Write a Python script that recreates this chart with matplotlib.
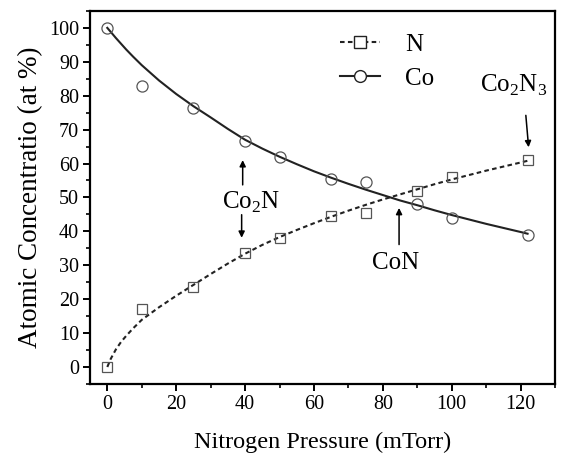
import matplotlib
matplotlib.use("Agg")
import matplotlib.pyplot as plt
from matplotlib.ticker import MultipleLocator

plt.rcParams['font.family'] = ['Liberation Serif', 'DejaVu Serif']
plt.rcParams['mathtext.fontset'] = 'custom'
plt.rcParams['mathtext.rm'] = 'Liberation Serif'

# measured points
pressure = [0, 10, 25, 40, 50, 65, 75, 90, 100, 122]
n_conc = [0, 17, 23.5, 33.5, 38, 44.5, 45.5, 52, 56, 61]
co_conc = [100, 83, 76.5, 66.5, 62, 55.5, 54.5, 48, 44, 39]

# fitted curves
fit_x = [0, 1, 2.5, 4, 5.5, 7.5, 10, 15, 20, 25, 30, 35, 40, 45, 50, 55, 60, 65,
         70, 75, 80, 85, 90, 95, 100, 105, 110, 115, 120, 122]
n_fit = [0, 2.4, 5.2, 7.4, 9.2, 11.4, 13.9, 17.6, 21.0, 24.2, 27.4, 30.5, 33.4, 36.0,
         38.3, 40.4, 42.4, 44.3, 46.1, 47.8, 49.4, 50.9, 52.4, 53.9, 55.3,
         56.6, 57.9, 59.1, 60.3, 60.8]
co_fit = [100, 98.8, 97.0, 95.3, 93.6, 91.5, 89.0, 84.5, 80.5, 76.9, 73.6, 70.2, 67.0,
          64.4, 62.0, 59.8, 57.7, 55.8, 54.0, 52.3, 50.7, 49.1, 47.7, 46.2,
          44.8, 43.5, 42.2, 41.0, 39.8, 39.3]

fig = plt.figure(figsize=(5.63, 4.74), dpi=100)
ax = fig.add_axes([0.160, 0.190, 0.826, 0.787])

ax.plot(fit_x, n_fit, color='#222222', lw=1.5, ls=(0, (2.2, 1.6)))
ax.plot(fit_x, co_fit, color='#222222', lw=1.5)
ax.plot(pressure, n_conc, ls='none', marker='s', ms=7.5, mfc='none',
        mec='#555555', mew=0.9)
ax.plot(pressure, co_conc, ls='none', marker='o', ms=8, mfc='none',
        mec='#555555', mew=0.9)

# legend handles
ax.plot([], [], color='#222222', lw=1.5, ls=(0, (2.2, 1.6)), marker='s',
        ms=8, mfc='white', mec='#222222', mew=1.0, label='N')
ax.plot([], [], color='#222222', lw=1.5, marker='o', ms=8.5, mfc='white',
        mec='#222222', mew=1.0, label='Co')
h, l = ax.get_legend_handles_labels()
ax.legend(h, l, loc='upper left', bbox_to_anchor=(0.49, 1.0), frameon=False,
          fontsize=18, handlelength=1.6, handletextpad=1.0, labelspacing=0.45)

arrow = dict(arrowstyle='-|>', color='black', lw=1.1, mutation_scale=9,
             shrinkA=0, shrinkB=0)
ax.text(41.9, 48.4, 'Co$_2$N', fontsize=18, ha='center', va='center')
ax.annotate('', xy=(39.3, 61.0), xytext=(39.3, 53.7), arrowprops=arrow)
ax.annotate('', xy=(39.0, 38.1), xytext=(39.0, 44.9), arrowprops=arrow)
ax.text(83.6, 30.8, 'CoN', fontsize=18, ha='center', va='center')
ax.annotate('', xy=(84.7, 46.9), xytext=(84.7, 36.1), arrowprops=arrow)
ax.text(118, 83, 'Co$_2$N$_3$', fontsize=18, ha='center', va='center')
ax.annotate('', xy=(122.3, 64.8), xytext=(121.5, 74.2), arrowprops=arrow)

ax.set_xlim(-5, 130)
ax.set_ylim(-5, 105)
ax.xaxis.set_major_locator(MultipleLocator(20))
ax.xaxis.set_minor_locator(MultipleLocator(10))
ax.yaxis.set_major_locator(MultipleLocator(10))
ax.yaxis.set_minor_locator(MultipleLocator(5))
ax.tick_params(which='major', direction='out', length=5, width=1.4,
               labelsize=14.5, pad=3)
ax.tick_params(which='minor', direction='out', length=3, width=1.2)
for s in ax.spines.values():
    s.set_linewidth(1.6)

ax.set_xlabel('Nitrogen Pressure (mTorr)', fontsize=17.5, labelpad=13)
ax.set_ylabel('Atomic Concentratio (at %)', fontsize=19.5, labelpad=4)

fig.savefig('out.png', dpi=100)
